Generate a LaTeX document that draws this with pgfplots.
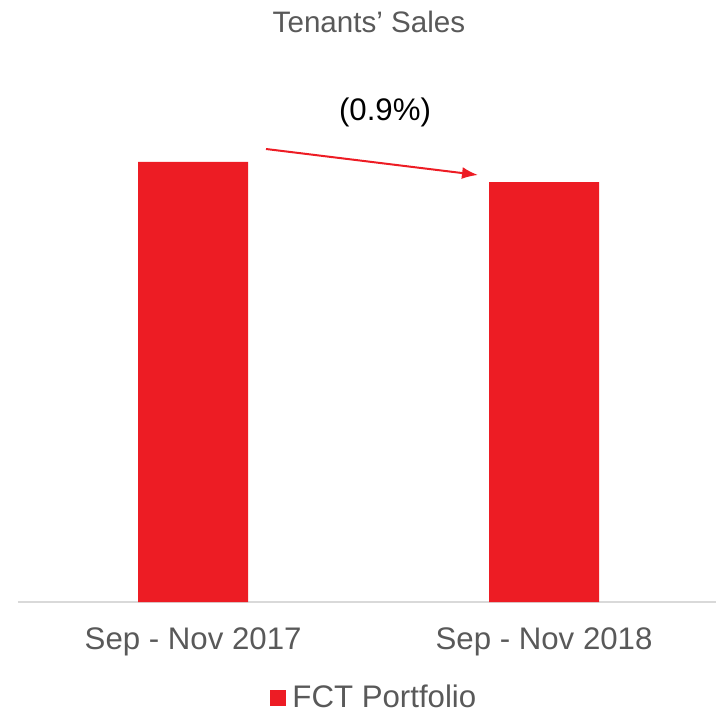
\documentclass[border=0pt]{standalone}
\usepackage{pgfplots}
\pgfplotsset{compat=1.18}
\usetikzlibrary{arrows.meta}
\usepackage{fontspec}
\setmainfont{Liberation Sans}
\definecolor{barred}{HTML}{ED1C24}
\definecolor{txtgray}{HTML}{595959}
\definecolor{linegray}{HTML}{D9D9D9}
\begin{document}
\begin{tikzpicture}
\useasboundingbox (0,0) rectangle (358pt,356pt);
\begin{axis}[
    at={(9pt,55pt)}, anchor=south west,
    scale only axis,
    width=349pt, height=220pt,
    ybar, bar width=55pt,
    xmin=-0.499, xmax=1.49,
    ymin=0, ymax=100,
    axis x line=bottom, axis y line=none,
    x axis line style={draw=linegray, line width=0.8pt, -},
    xtick=data, xticklabels={Sep - Nov 2017, Sep - Nov 2018},
    major tick length=0pt,
    xticklabel style={font=\fontsize{15.6}{18}\selectfont, text=txtgray, yshift=-9.5pt},
    clip=false,
    legend style={at={(0.512,-0.218)}, anchor=center, draw=none, fill=none, inner sep=0pt,
        font=\fontsize{15.6}{18}\selectfont, text=txtgray},
    legend image code/.code={\fill[barred] (0pt,-4pt) rectangle (8pt,4pt);},
    legend cell align=left,
]
\addplot[fill=barred, draw=none] coordinates {(0,100) (1,95.45)};
\addlegendentry{\hspace{1pt}FCT Portfolio}
\end{axis}
\node[font=\fontsize{14.8}{18}\selectfont, text=txtgray] at (184.5pt,345pt) {Tenants’ Sales};
\node[font=\fontsize{15.6}{18}\selectfont] at (192.5pt,300pt) {(0.9\%)};
\draw[barred, line width=1pt, -{Latex[length=8pt,width=6pt]}] (133pt,281.5pt) -- (239pt,268.5pt);
\end{tikzpicture}
\end{document}
